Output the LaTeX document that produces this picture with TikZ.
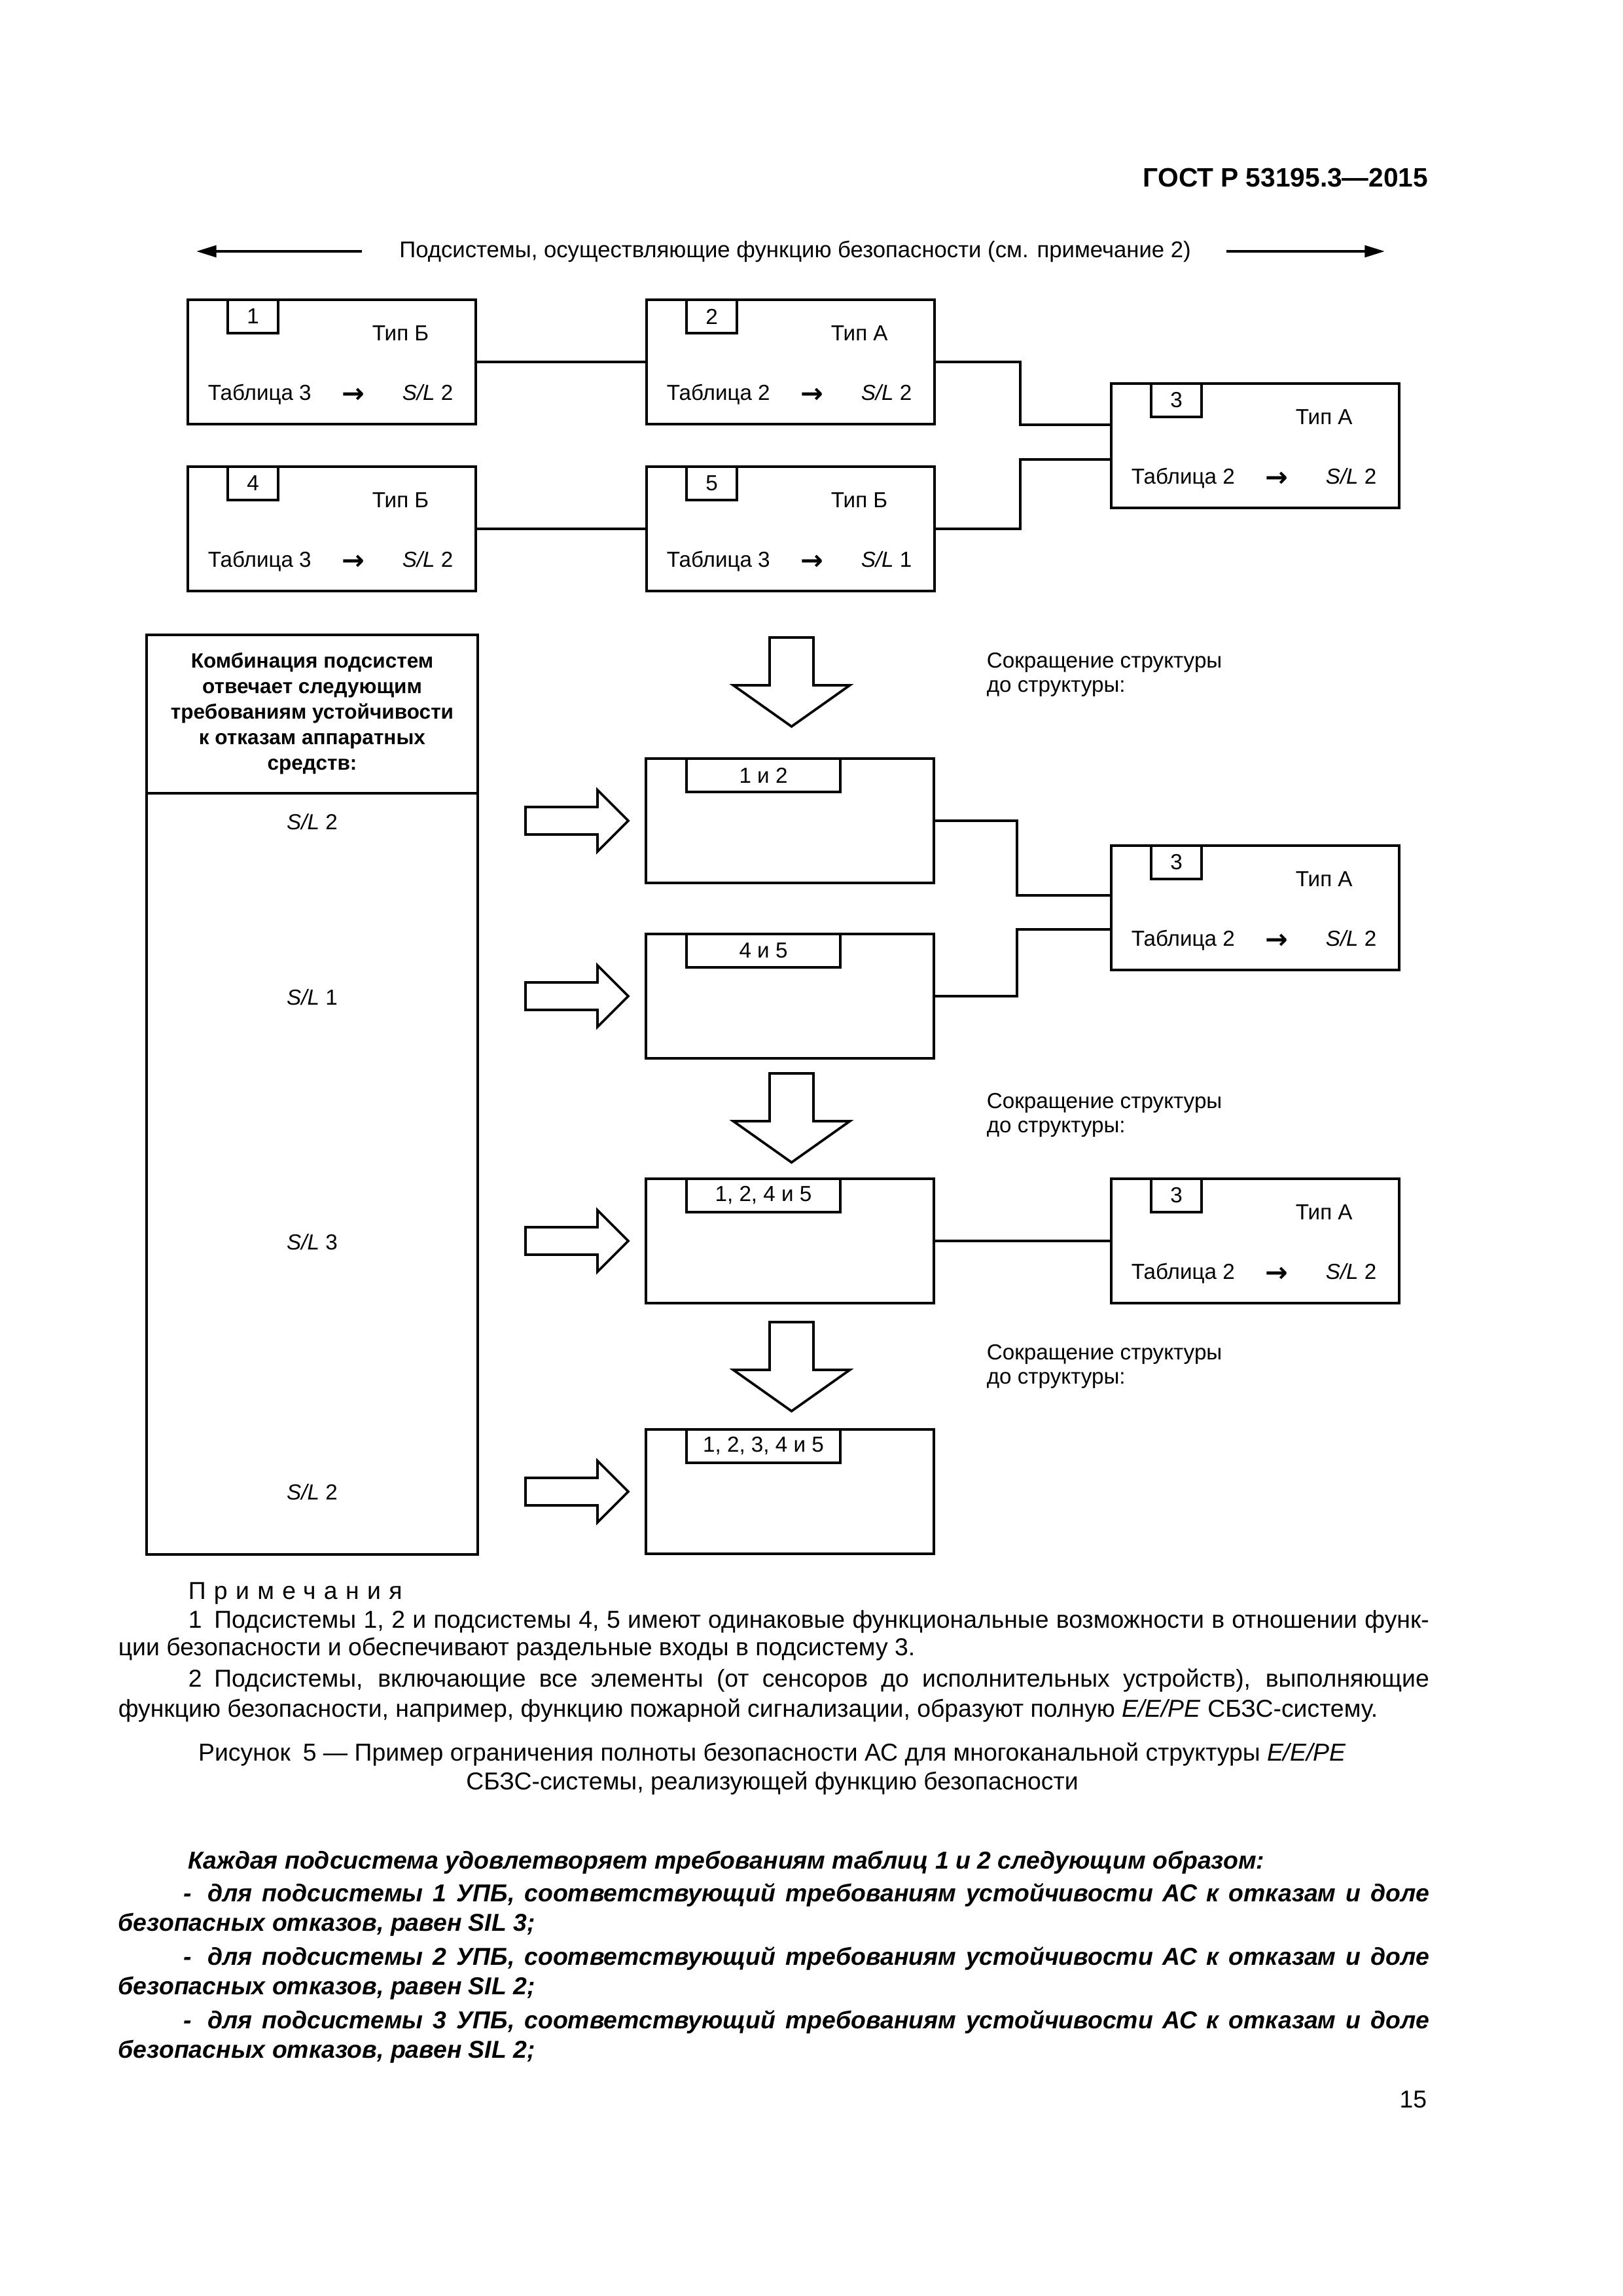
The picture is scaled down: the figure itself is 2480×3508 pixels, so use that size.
\documentclass[tikz,border=0pt]{standalone}
\usepackage{fontspec}
\setmainfont{Liberation Sans}
\newfontfamily\djv{DejaVu Sans}
\usetikzlibrary{calc,arrows.meta}
\newlength\pxl \setlength\pxl{0.0846774mm}
\newcommand\bfont{\fontsize{8}{9.6}\selectfont}
\newcommand\nfont{\fontsize{9}{10.8}\selectfont}
\newcommand\arr{\raisebox{-4\pxl}{\djv\bfseries\fontsize{10}{12}\selectfont →}}
\newcommand\typebox[7]{%
  \node[bx] (#1) at (#2,#3) {};
  \node[tabbox, anchor=north west] (#1t) at ($(#1.north west)+(61,0)$) {#4};
  \node[txt, anchor=base west] (#1a) at ($(#1.north west)+(281,62)$) {Тип #5};
  \node[txt, anchor=base west] (#1b) at ($(#1.north west)+(30,153)$) {Таблица #6};
  \node[txt, anchor=base] (#1c) at ($(#1.north west)+(253,153)$) {\arr};
  \node[txt, anchor=base west] (#1d) at ($(#1.north west)+(327,153)$) {\textit{S/L}~#7};
}
\newcommand\subbox[4]{%
  \node[bx] (#1) at (#2,#3) {};
  \node[wtab, anchor=north west] (#1t) at ($(#1.north west)+(62,0)$) {#4};
}
\begin{document}
\begin{tikzpicture}[x=0.0846774mm,y=-0.0846774mm,
  bx/.style={draw, line width=1.1pt, minimum width=440\pxl, minimum height=190\pxl, inner sep=0pt, outer sep=0pt},
  tabbox/.style={draw, line width=1.1pt, minimum width=77\pxl, minimum height=51\pxl, inner sep=0pt, outer sep=0pt, font=\bfont},
  wtab/.style={tabbox, minimum width=235\pxl},
  txt/.style={inner sep=0pt, font=\bfont},
  note/.style={inner sep=0pt, font=\nfont},
  bnote/.style={inner sep=0pt, font=\nfont\bfseries\itshape},
  conn/.style={line width=1pt},
  blk/.style={draw, line width=0.9pt, fill=white, line join=miter},
  downarr/.pic={\draw[blk] (-33.5,0) -- (33.5,0) -- (33.5,73) -- (89,73) -- (0,136) -- (-89,73) -- (-33.5,73) -- cycle;},
  rightarr/.pic={\draw[blk] (0,-21) -- (110,-21) -- (110,-47) -- (157,0) -- (110,47) -- (110,21) -- (0,21) -- cycle;}
]
\useasboundingbox[fill=white] (0,0) rectangle (2480,3508);

% header
\node[inner sep=0pt, anchor=base east, font=\fontsize{9.8}{12}\selectfont\bfseries] (hdr) at (2183,285) {ГОСТ Р 53195.3—2015};

% top label with arrows
\node[inner sep=0pt, font=\fontsize{8.36}{10}\selectfont] (toplabel) at (1215,384) {Подсистемы, осуществляющие функцию безопасности (см. примечание 2)};
\coordinate (tlL) at (300,384);
\coordinate (tlR) at (2116,384);
\draw[conn,-{Triangle[length=2.6mm,width=1.5mm]}] ($(toplabel.west)+(-57,0)$) -- (tlL);
\draw[conn,-{Triangle[length=2.6mm,width=1.5mm]}] ($(toplabel.east)+(54,0)$) -- (tlR);

% first structure
\typebox{b1}{507}{553}{1}{Б}{3}{2}
\typebox{b2}{1208}{553}{2}{А}{2}{2}
\typebox{b4}{507}{808}{4}{Б}{3}{2}
\typebox{b5}{1208}{808}{5}{Б}{3}{1}
\typebox{b3}{1918}{681}{3}{А}{2}{2}
\draw[conn] (b1.east) -- (b2.west);
\draw[conn] (b4.east) -- (b5.west);
\draw[conn] (b2.east) -- ++(131,0) |- ($(b3.north west)+(0,63)$);
\draw[conn] (b5.east) -- ++(131,0) |- ($(b3.north west)+(0,116)$);

% left column
\node[draw, line width=1.1pt, minimum width=506\pxl, minimum height=1405\pxl, inner sep=0pt, outer sep=0pt] (lb) at (477,1672.5) {};
\draw[line width=1.1pt] ($(lb.north west)+(0,242)$) -- ($(lb.north east)+(0,242)$);
\node[inner sep=0pt, align=center, font=\fontsize{7.6}{9.42}\selectfont\bfseries] (lbh) at (477,1090) {Комбинация подсистем\\отвечает следующим\\требованиям устойчивости\\к отказам аппаратных\\средств:};
\node[txt, anchor=base] (sil1) at (477,1267) {\textit{S/L}~2};
\node[txt, anchor=base] (sil2) at (477,1535) {\textit{S/L}~1};
\node[txt, anchor=base] (sil3) at (477,1909) {\textit{S/L}~3};
\node[txt, anchor=base] (sil4) at (477,2291) {\textit{S/L}~2};

% block arrows
\pic at (1209.5,974) {downarr};
\pic at (1209.5,1640) {downarr};
\pic at (1209.5,2020) {downarr};
\pic at (803,1254) {rightarr};
\pic at (803,1522) {rightarr};
\pic at (803,1896) {rightarr};
\pic at (803,2279) {rightarr};

% reduction labels
\node[txt, anchor=base west] (r1a) at (1507,1020) {Сокращение структуры};
\node[txt, anchor=base west] (r1b) at (1507,1057) {до структуры:};
\node[txt, anchor=base west] (r2a) at (1507,1693) {Сокращение структуры};
\node[txt, anchor=base west] (r2b) at (1507,1730) {до структуры:};
\node[txt, anchor=base west] (r3a) at (1507,2077) {Сокращение структуры};
\node[txt, anchor=base west] (r3b) at (1507,2114) {до структуры:};

% second structure
\subbox{s12}{1207}{1254}{1 и 2}
\subbox{s45}{1207}{1522}{4 и 5}
\typebox{b3b}{1918}{1387}{3}{А}{2}{2}
\draw[conn] (s12.east) -- ++(127,0) |- ($(b3b.north west)+(0,76)$);
\draw[conn] (s45.east) -- ++(127,0) |- ($(b3b.north west)+(0,128)$);

% third structure
\subbox{s1245}{1207}{1896}{1, 2, 4 и 5}
\typebox{b3c}{1918}{1896}{3}{А}{2}{2}
\draw[conn] (s1245.east) -- (b3c.west);

% fourth structure
\subbox{s12345}{1207}{2279}{1, 2, 3, 4 и 5}

% notes
\node[note, anchor=base west] (n0) at (287,2443) {\addfontfeature{LetterSpace=33}Примечания};
\node[note, anchor=base west] (n1) at (287,2487) {\makebox[1896\pxl][s]{1\enspace Подсистемы 1, 2 и подсистемы 4, 5 имеют одинаковые функциональные возможности в отношении функ-}};
\node[note, anchor=base west] (n2) at (180,2529) {ции безопасности и обеспечивают раздельные входы в подсистему 3.};
\node[note, anchor=base west] (n3) at (287,2577) {\makebox[1896\pxl][s]{2\enspace Подсистемы, включающие все элементы (от сенсоров до исполнительных устройств), выполняющие}};
\node[note, anchor=base west] (n4) at (180,2623) {функцию безопасности, например, функцию пожарной сигнализации, образуют полную \textit{E/E/PE} СБЗС-систему.};
\node[note, anchor=base] (c1) at (1180,2690) {Рисунок\enspace 5 — Пример ограничения полноты безопасности АС для многоканальной структуры \textit{E/E/PE}};
\node[note, anchor=base] (c2) at (1180,2734) {СБЗС-системы, реализующей функцию безопасности};

% bold italic text
\node[bnote, anchor=base west] (t1) at (287,2855) {Каждая подсистема удовлетворяет требованиям таблиц 1 и 2 следующим образом:};
\node[bnote, anchor=base west] (t2) at (280,2905) {\makebox[1903\pxl][s]{-\hspace{24\pxl}для подсистемы 1 УПБ, соответствующий требованиям устойчивости АС к отказам и доле}};
\node[bnote, anchor=base west] (t3) at (180,2950) {безопасных отказов, равен SIL 3;};
\node[bnote, anchor=base west] (t4) at (280,3002) {\makebox[1903\pxl][s]{-\hspace{24\pxl}для подсистемы 2 УПБ, соответствующий требованиям устойчивости АС к отказам и доле}};
\node[bnote, anchor=base west] (t5) at (180,3047) {безопасных отказов, равен SIL 2;};
\node[bnote, anchor=base west] (t6) at (280,3099) {\makebox[1903\pxl][s]{-\hspace{24\pxl}для подсистемы 3 УПБ, соответствующий требованиям устойчивости АС к отказам и доле}};
\node[bnote, anchor=base west] (t7) at (180,3144) {безопасных отказов, равен SIL 2;};
\node[note, anchor=base east] (pg) at (2181,3220) {15};
\end{tikzpicture}
\end{document}
